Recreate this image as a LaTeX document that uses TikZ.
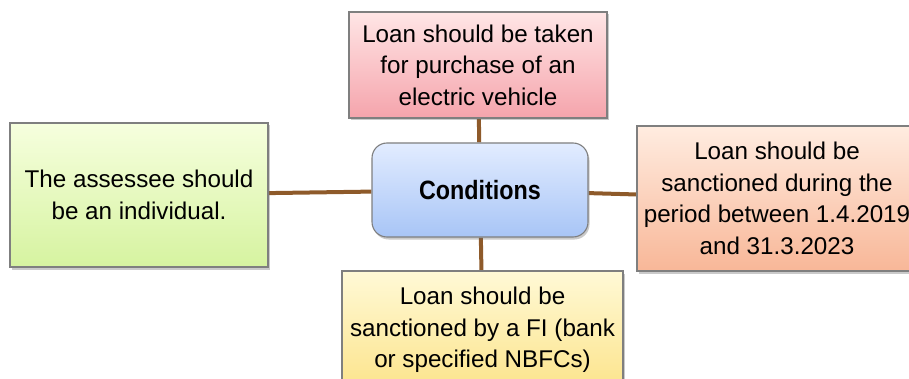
\documentclass[tikz,border=0pt]{standalone}
\usepackage{fontspec}
\setmainfont{Liberation Sans}
\newfontfamily\condfont[FakeStretch=0.88]{Liberation Sans}
\usetikzlibrary{shadows,backgrounds}
\definecolor{brn}{HTML}{8E5A2A}
\definecolor{edge}{HTML}{7F7F7F}
\tikzset{
  box/.style={draw=edge, line width=1.1pt, align=center, inner sep=0pt,
    font=\fontsize{24.2}{31.5}\selectfont,
    drop shadow={shadow xshift=1.5pt, shadow yshift=-2.5pt, opacity=0.35, fill=black!60}},
  link/.style={draw=brn, line width=4pt}
}
\begin{document}
\begin{tikzpicture}[x=1pt,y=-1pt]
\useasboundingbox (0,0) rectangle (909,379);
\node[box, minimum width=258pt, minimum height=106pt, top color=red!10!white, bottom color={rgb,255:red,245;green,164;blue,172}] (top) at (478,65)
  {Loan should be taken\\for purchase of an\\electric vehicle};
\node[box, minimum width=258pt, minimum height=144pt, top color={rgb,255:red,246;green,255;blue,222}, bottom color={rgb,255:red,214;green,243;blue,160}] (left) at (139,195)
  {The assessee should\\be an individual.};
\node[box, rounded corners=15pt, minimum width=216pt, minimum height=94pt, font=\condfont\fontsize{26.5}{32}\selectfont\bfseries, top color={rgb,255:red,226;green,236;blue,255}, bottom color={rgb,255:red,168;green,197;blue,246}] (c) at (480,190)
  {Conditions};
\node[box, minimum width=280pt, minimum height=145pt, top color={rgb,255:red,255;green,236;blue,224}, bottom color={rgb,255:red,248;green,183;blue,152}] (right) at (777,198.5)
  {Loan should be\\sanctioned during the\\period between 1.4.2019\\and 31.3.2023};
\node[box, minimum width=281pt, minimum height=118pt, top color={rgb,255:red,255;green,249;blue,214}, bottom color={rgb,255:red,252;green,228;blue,140}] (bot) at (482.5,330)
  {Loan should be\\sanctioned by a FI (bank\\or specified NBFCs)};
\begin{scope}[on background layer]
\draw[link] (top) -- (c);
\draw[link] (left) -- (c);
\draw[link] (right) -- (c);
\draw[link] (bot) -- (c);
\end{scope}
\end{tikzpicture}
\end{document}
